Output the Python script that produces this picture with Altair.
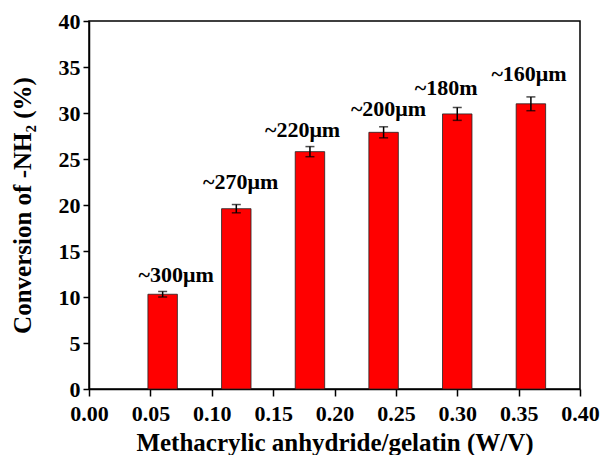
import altair as alt
import pandas as pd

# data
ratio = [0.06, 0.12, 0.18, 0.24, 0.30, 0.36]
conversion = [10.3, 19.6, 25.8, 27.9, 29.9, 31.0]
error = [0.3, 0.45, 0.55, 0.6, 0.7, 0.75]
size_labels = ["~300\u03bcm", "~270\u03bcm", "~220\u03bcm", "~200\u03bcm", "~180m", "~160\u03bcm"]
label_x = [0.071, 0.1235, 0.174, 0.244, 0.291, 0.3585]
label_y = [11.6, 21.7, 27.4, 29.65, 32.0, 33.45]

x_ticks = [0.0, 0.025, 0.05, 0.075, 0.1, 0.125, 0.15, 0.175, 0.2, 0.225,
           0.25, 0.275, 0.3, 0.325, 0.35, 0.375, 0.4]
y_ticks = [0, 2.5, 5, 7.5, 10, 12.5, 15, 17.5, 20, 22.5, 25, 27.5, 30,
           32.5, 35, 37.5, 40]

X_TITLE = "Methacrylic anhydride/gelatin (W/V)"
Y_TITLE = "Conversion of -NH\u2082 (%)"

df = pd.DataFrame({
    "ratio": ratio,
    "conv": conversion,
    "err": error,
})
lab = pd.DataFrame({"lx": label_x, "ly": label_y, "text": size_labels})

FONT = "Liberation Serif"
HALF_W = 0.012

x_scale = alt.Scale(domain=[0, 0.4], nice=False, zero=False)
y_scale = alt.Scale(domain=[0, 40], nice=False)

x_axis = alt.Axis(
    values=x_ticks,
    format=".2f",
    labelExpr="abs(datum.value*20 - round(datum.value*20)) < 1e-6 ? datum.label : ''",
    tickSize={"condition": {"test": "abs(datum.value*20 - round(datum.value*20)) < 1e-6", "value": 7}, "value": 4},
    labelOverlap=False,
    labelFlush=False,
    labelFontSize=22,
    labelPadding=7,
    titleFontSize=25,
    titlePadding=6,
    grid=False,
)
y_axis = alt.Axis(
    values=y_ticks,
    labelExpr="datum.value % 5 === 0 ? datum.label : ''",
    tickSize={"condition": {"test": "datum.value % 5 === 0", "value": 6}, "value": 3},
    labelOverlap=False,
    labelFlush=False,
    labelFontSize=22,
    labelPadding=3,
    titleFontSize=25,
    titlePadding=23,
    grid=False,
)

base = alt.Chart(df)

bars = base.mark_bar(color="#FF0000", stroke="#222222", strokeWidth=0.8).transform_calculate(
    xl=f"datum.ratio - {HALF_W}", xr=f"datum.ratio + {HALF_W}"
).encode(
    x=alt.X("xl:Q", scale=x_scale, axis=x_axis, title=X_TITLE),
    x2="xr:Q",
    y=alt.Y("conv:Q", scale=y_scale, axis=y_axis, title=Y_TITLE),
    y2=alt.datum(0),
)

errs = base.mark_errorbar(
    ticks={"size": 9, "thickness": 1.5, "color": "black"},
    rule={"strokeWidth": 1.5, "color": "black"},
    color="black",
).transform_calculate(
    lo="datum.conv - datum.err", hi="datum.conv + datum.err"
).encode(
    x=alt.X("ratio:Q", scale=x_scale, title=X_TITLE),
    y=alt.Y("lo:Q", scale=y_scale, title=Y_TITLE),
    y2="hi:Q",
)

texts = alt.Chart(lab).mark_text(
    font=FONT, fontSize=22, fontWeight="bold", color="black",
    align="center", baseline="alphabetic",
).encode(
    x=alt.X("lx:Q", scale=x_scale, title=X_TITLE),
    y=alt.Y("ly:Q", scale=y_scale, title=Y_TITLE),
    text="text:N",
)

chart = alt.layer(bars, errs, texts).properties(
    width=491, height=368,
    padding={"left": 2, "top": 2, "right": 0, "bottom": 0},
    background="white",
).configure_axis(
    labelFont=FONT, titleFont=FONT,
    labelFontWeight="bold", titleFontWeight="bold",
    labelColor="black", titleColor="black",
    domainColor="black", domainWidth=1.5,
    tickColor="black", tickWidth=1.5,
).configure_view(
    stroke="black", strokeWidth=1.5,
)

chart.save("out.html", embed_options={"renderer": "svg", "actions": False})
